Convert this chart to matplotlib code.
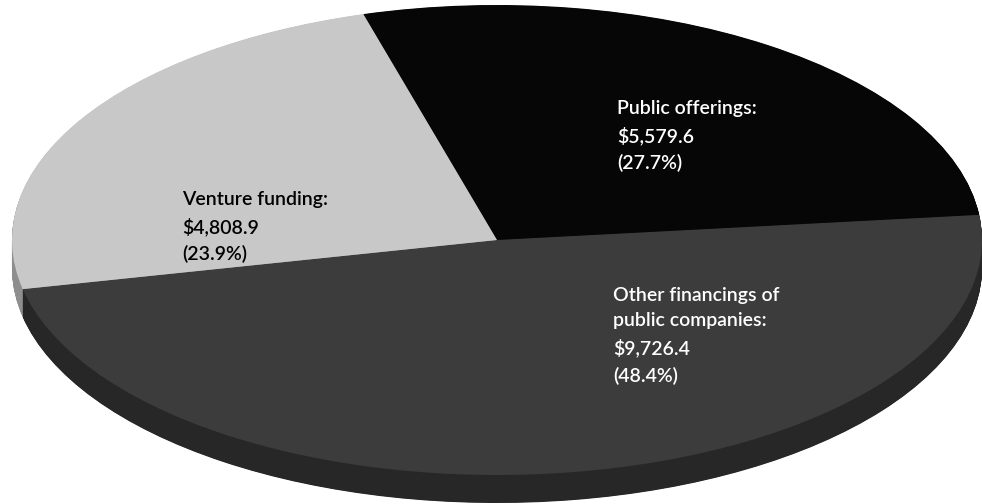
import matplotlib
matplotlib.use("Agg")
import matplotlib.pyplot as plt

# Financing totals ($ millions)
names = ["Public offerings:", "Other financings of\npublic companies:", "Venture funding:"]
amounts = [5579.6, 9726.4, 4808.9]

top_colors = ["#060606", "#3c3c3c", "#c8c8c8"]
wall_colors = ["#030303", "#272727", "#8e8e8e"]
text_colors = ["white", "white", "black"]

# label anchors in pixels (left, top of first line)
label_xy = [(617, 100), (613, 287), (182, 191)]

W, H = 982, 504
CX, CY, RX, RY = 497, 240, 485, 235   # ellipse centre / semi-axes in px
DEPTH = 28 / RY                        # side wall thickness in data units
START = 106

plt.rcParams["font.family"] = ["Lato", "DejaVu Sans"]

fig = plt.figure(figsize=(W / 100, H / 100), dpi=100)
ax = fig.add_axes([0, 0, 1, 1])

# side wall: stack of pies stepping downward
n_layers = 60
for k in range(n_layers, 0, -1):
    ax.pie(amounts, colors=wall_colors, startangle=START, counterclock=False,
           center=(0, -DEPTH * k / n_layers), radius=1,
           wedgeprops=dict(linewidth=0))

# top surface
ax.pie(amounts, colors=top_colors, startangle=START, counterclock=False,
       center=(0, 0), radius=1, wedgeprops=dict(linewidth=0))

ax.set_aspect("auto")
ax.set_xlim(-CX / RX, (W - CX) / RX)
ax.set_ylim((CY - H) / RY, CY / RY)
ax.axis("off")

total = sum(amounts)
for name, amt, col, (lx, ly) in zip(names, amounts, text_colors, label_xy):
    pct = amt / total * 100
    label = f"{name}\n${amt:,.1f}\n({pct:.1f}%)"
    fig.text(lx / W, 1 - ly / H, label, ha="left", va="top",
             fontsize=14, fontweight="semibold", color=col, linespacing=1.6)

fig.savefig("out.png", dpi=100, facecolor="white")
